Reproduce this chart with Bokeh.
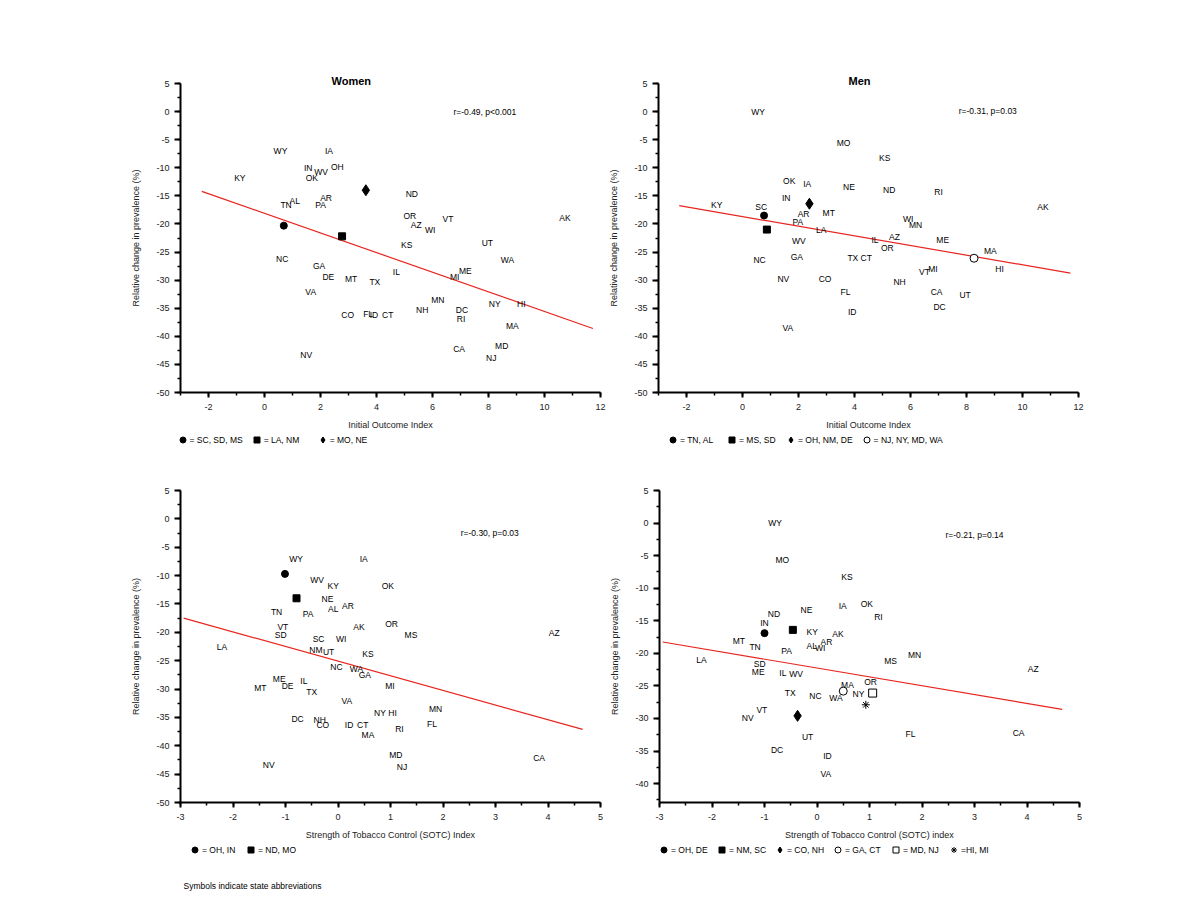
from bokeh.plotting import figure
from bokeh.models import (Range1d, SingleIntervalTicker, Label, Legend, LegendItem,
                          PrintfTickFormatter)
from bokeh.layouts import row, column
from bokeh.embed import file_html
from bokeh.resources import INLINE
from bokeh.core.properties import value

FONT = "Liberation Sans"

# ---------------- Panel 1: Women vs Initial Outcome Index ----------------
w_ioi_states = ["WY","IA","IN","WV","OH","OK","KY","ND","AR","AL","TN","PA","OR","VT","AZ","WI","AK","UT","KS","NC",
                "WA","GA","IL","ME","DE","MT","MI","TX","VA","MN","NY","HI","NH","DC","CO","FL","ID","CT","RI","MA",
                "CA","MD","NJ","NV"]
w_ioi_x = [0.57,2.30,1.56,2.02,2.60,1.69,-0.88,5.26,2.20,1.08,0.77,2.00,5.19,6.55,5.42,5.92,10.73,7.96,5.08,0.63,
           8.68,1.95,4.71,7.17,2.28,3.09,6.79,3.94,1.65,6.19,8.22,9.17,5.63,7.05,2.97,3.70,3.91,4.40,7.02,8.85,
           6.95,8.47,8.10,1.49]
w_ioi_y = [-7.0,-7.0,-10.1,-10.7,-9.9,-11.9,-11.9,-14.7,-15.4,-16.0,-16.6,-16.7,-18.6,-19.1,-20.1,-21.1,-18.9,-23.4,-23.8,-26.3,
           -26.5,-27.5,-28.5,-28.3,-29.5,-29.8,-29.4,-30.4,-32.1,-33.5,-34.3,-34.3,-35.4,-35.3,-36.2,-36.1,-36.2,-36.2,-37.0,-38.2,
           -42.2,-41.8,-43.9,-43.4]
w_ioi_sym = ["circle", "square", "diamond"]
w_ioi_sym_x = [0.69, 2.77, 3.62]
w_ioi_sym_y = [-20.3, -22.2, -14.0]
w_ioi_sym_lab = ["= SC, SD, MS", "= LA, NM", "= MO, NE"]
w_ioi_fit_x = [-2.24, 11.73]
w_ioi_fit_y = [-14.2, -38.6]

# ---------------- Panel 2: Men vs Initial Outcome Index ----------------
m_ioi_states = ["WY","MO","KS","OK","IA","NE","ND","RI","IN","KY","SC","AK","AR","MT","WI","MN","PA","LA","IL","AZ",
                "ME","OR","WV","MA","NC","GA","TX","CT","VT","MI","HI","NV","CO","NH","FL","CA","UT","DC","ID","VA"]
m_ioi_x = [0.56,3.61,5.08,1.67,2.31,3.80,5.24,7.00,1.56,-0.92,0.67,10.73,2.18,3.08,5.92,6.18,1.98,2.81,4.73,5.43,
           7.15,5.17,2.01,8.85,0.61,1.94,3.94,4.42,6.50,6.80,9.18,1.46,2.95,5.61,3.68,6.93,7.95,7.04,3.92,1.62]
m_ioi_y = [0.0,-5.6,-8.25,-12.4,-12.8,-13.4,-13.9,-14.3,-15.3,-16.7,-16.9,-17.0,-18.2,-18.0,-19.2,-20.2,-19.7,-21.0,-22.9,-22.3,
           -22.8,-24.3,-23.1,-24.9,-26.5,-25.9,-26.1,-26.1,-28.5,-28.1,-28.1,-29.8,-29.8,-30.3,-32.2,-32.1,-32.6,-34.7,-35.6,-38.5]
m_ioi_sym = ["circle", "square", "diamond", "circle_open"]
m_ioi_sym_x = [0.77, 0.87, 2.39, 8.27]
m_ioi_sym_y = [-18.5, -21.0, -16.4, -26.1]
m_ioi_sym_lab = ["= TN, AL", "= MS, SD", "= OH, NM, DE", "= NJ, NY, MD, WA"]
m_ioi_fit_x = [-2.26, 11.71]
m_ioi_fit_y = [-16.75, -28.74]

# ---------------- Panel 3: Women vs SOTC ----------------
w_sotc_states = ["WY","IA","WV","KY","OK","NE","AL","AR","TN","PA","AK","OR","VT","SD","MS","AZ","SC","WI","LA","NM",
                 "UT","KS","NC","WA","GA","ME","IL","DE","MT","MI","TX","VA","MN","NY","HI","DC","NH","CO","ID","CT",
                 "FL","RI","MA","MD","NJ","CA","NV"]
w_sotc_x = [-0.80,0.49,-0.40,-0.09,0.95,-0.20,-0.09,0.19,-1.17,-0.57,0.40,1.02,-1.05,-1.09,1.39,4.12,-0.37,0.06,-2.21,-0.42,
            -0.18,0.57,-0.03,0.35,0.51,-1.12,-0.65,-0.96,-1.48,0.99,-0.50,0.17,1.86,0.80,1.04,-0.77,-0.35,-0.29,0.21,0.47,
            1.79,1.17,0.57,1.10,1.22,3.83,-1.32]
w_sotc_y = [-7.0,-7.0,-10.7,-11.8,-11.8,-14.1,-15.9,-15.4,-16.5,-16.7,-19.0,-18.6,-19.1,-20.5,-20.5,-20.1,-21.1,-21.1,-22.5,-23.1,
            -23.4,-23.8,-26.2,-26.5,-27.5,-28.3,-28.5,-29.5,-29.9,-29.5,-30.5,-32.1,-33.6,-34.2,-34.3,-35.3,-35.5,-36.3,-36.3,-36.3,
            -36.2,-37.0,-38.1,-41.7,-43.8,-42.2,-43.4]
w_sotc_sym = ["circle", "square"]
w_sotc_sym_x = [-1.01, -0.79]
w_sotc_sym_y = [-9.7, -14.0]
w_sotc_sym_lab = ["= OH, IN", "= ND, MO"]
w_sotc_fit_x = [-2.94, 4.66]
w_sotc_fit_y = [-17.5, -37.1]

# ---------------- Panel 4: Men vs SOTC ----------------
m_sotc_states = ["WY","MO","KS","IA","OK","NE","ND","RI","IN","KY","AK","AR","MT","TN","AL","WI","PA","MN","LA","MS",
                 "SD","AZ","ME","IL","WV","OR","MA","TX","NC","WA","NY","VT","NV","FL","CA","UT","DC","ID","VA"]
m_sotc_x = [-0.80,-0.66,0.57,0.49,0.95,-0.20,-0.82,1.17,-1.00,-0.09,0.40,0.18,-1.49,-1.18,-0.10,0.06,-0.58,1.86,-2.20,1.40,
            -1.09,4.12,-1.12,-0.65,-0.40,1.02,0.58,-0.51,-0.03,0.36,0.79,-1.05,-1.32,1.78,3.84,-0.18,-0.76,0.20,0.17]
m_sotc_y = [0.0,-5.6,-8.3,-12.8,-12.5,-13.4,-13.9,-14.4,-15.4,-16.7,-17.1,-18.2,-18.05,-19.1,-18.9,-19.2,-19.7,-20.3,-21.0,-21.2,
            -21.6,-22.4,-22.8,-23.0,-23.2,-24.4,-24.9,-26.1,-26.6,-26.9,-26.3,-28.7,-29.9,-32.4,-32.3,-32.8,-34.8,-35.8,-38.6]
m_sotc_sym = ["circle", "square", "diamond", "circle_open", "square_open", "asterisk"]
m_sotc_sym_x = [-1.00, -0.46, -0.37, 0.50, 1.06, 0.93]
m_sotc_sym_y = [-16.9, -16.4, -29.6, -25.8, -26.1, -27.9]
m_sotc_sym_lab = ["= OH, DE", "= NM, SC", "= CO, NH", "= GA, CT", "= MD, NJ", "=HI, MI"]
m_sotc_fit_x = [-2.94, 4.67]
m_sotc_fit_y = [-18.26, -28.6]

Y_LABEL = "Relative change in prevalence (%)"
FOOTNOTE = "Symbols indicate state abbreviations"

MARKER_STYLE = {
    "circle": dict(marker="circle", size=7, fill_color="black"),
    "square": dict(marker="square", size=7, fill_color="black"),
    "diamond": dict(marker="diamond", size=11, fill_color="black"),
    "circle_open": dict(marker="circle", size=8, fill_color="white"),
    "square_open": dict(marker="square", size=8, fill_color="white"),
    "asterisk": dict(marker="asterisk", size=8, fill_color="white"),
}


def make_panel(width, height, bl, br, bt, bb, xr, yr, xint, states, xs, ys,
               syms, sx, sy, fx, fy, stat, stat_xy, xlabel, title=None, title_offset=0):
    p = figure(width=width, height=height, output_backend="svg", toolbar_location=None,
               x_range=Range1d(*xr), y_range=Range1d(*yr),
               min_border_left=bl, min_border_right=br, min_border_top=bt, min_border_bottom=bb,
               background_fill_color="white", border_fill_color="white")
    p.outline_line_color = None
    p.grid.visible = False
    p.xaxis.ticker = SingleIntervalTicker(interval=xint, num_minor_ticks=2)
    p.yaxis.ticker = SingleIntervalTicker(interval=5, num_minor_ticks=2)
    p.xaxis.formatter = PrintfTickFormatter(format="%d")
    p.yaxis.formatter = PrintfTickFormatter(format="%d")
    for ax in (p.xaxis[0], p.yaxis[0]):
        ax.axis_line_width = 2
        ax.axis_line_color = "black"
        ax.major_tick_line_width = 2
        ax.major_tick_line_color = "black"
        ax.minor_tick_line_width = 1.5
        ax.minor_tick_line_color = "black"
        ax.major_tick_in = 0
        ax.minor_tick_in = 0
        ax.major_label_text_font = FONT
        ax.major_label_text_font_size = "9px"
        ax.major_label_text_color = "#222222"
        ax.axis_label_text_font = FONT
        ax.axis_label_text_font_size = "9px"
        ax.axis_label_text_font_style = "normal"
        ax.axis_label_text_color = "#222222"
    p.xaxis.major_tick_out = 5
    p.xaxis.minor_tick_out = 3
    p.xaxis.major_label_standoff = 6
    p.xaxis.axis_label_standoff = 7
    p.xaxis.axis_label = xlabel
    p.yaxis.major_tick_out = 6
    p.yaxis.minor_tick_out = 3
    p.yaxis.major_label_standoff = 5
    p.yaxis.axis_label_standoff = 12
    p.yaxis.axis_label = Y_LABEL

    p.line(fx, fy, line_color="#e8251f", line_width=1.2)
    p.text(x=xs, y=ys, text=states, text_font=value(FONT), text_font_size=value("8.5px"),
           text_align="center", text_baseline="middle", text_color="black")

    for s, x0, y0 in zip(syms, sx, sy):
        st = MARKER_STYLE[s]
        p.scatter(x=[x0], y=[y0], marker=st["marker"], size=st["size"],
                  fill_color=st["fill_color"], line_color="black", line_width=1)

    p.add_layout(Label(x=stat_xy[0], y=stat_xy[1], text=stat, text_font=FONT, text_font_size="8.5px",
                       text_align="center", text_baseline="middle", text_color="black"))
    if title:
        p.title.text = title
        p.title.align = "left"
        p.title.offset = title_offset
        p.title.standoff = -6
        p.title.text_font = FONT
        p.title.text_font_size = "11px"
        p.title.text_font_style = "bold"
        p.title.text_color = "black"
    return p


def make_key(width, height, syms, sx, sy, slab, key_x, label_width, spacing, footnote=None, foot_y=0):
    """Strip under a panel holding the symbol key (a Bokeh Legend).
    The key's own renderers hold the same points, kept outside this strip's view."""
    k = figure(width=width, height=height, output_backend="svg", toolbar_location=None,
               x_range=Range1d(1000, 1001), y_range=Range1d(1000, 1001),
               x_axis_location=None, y_axis_location=None,
               min_border=0, min_border_left=0, min_border_right=0, min_border_top=0, min_border_bottom=0,
               background_fill_color="white", border_fill_color="white")
    k.outline_line_color = None
    k.grid.visible = False
    items = []
    for s, x0, y0, lab in zip(syms, sx, sy, slab):
        st = MARKER_STYLE[s]
        r = k.scatter(x=[x0], y=[y0], marker=st["marker"], size=st["size"],
                      fill_color=st["fill_color"], line_color="black", line_width=1)
        items.append(LegendItem(label=value(lab), renderers=[r]))
    leg = Legend(items=items, orientation="horizontal", location=(key_x, height - 15),
                 glyph_width=15, glyph_height=15, label_standoff=0, spacing=spacing,
                 padding=0, margin=0, label_width=label_width, label_height=15,
                 border_line_color=None, background_fill_alpha=0,
                 label_text_font=FONT, label_text_font_size="8.5px", label_text_color="black")
    k.add_layout(leg)
    if footnote:
        k.add_layout(Label(x=183, y=foot_y, x_units="screen", y_units="screen", text=footnote,
                           text_font=FONT, text_font_size="8.5px", text_align="left",
                           text_baseline="middle", text_color="black"))
    return k


p1 = make_panel(606, 432, 180, 6, 83, 40, (-3, 12), (-50, 5), 2,
                w_ioi_states, w_ioi_x, w_ioi_y, w_ioi_sym, w_ioi_sym_x, w_ioi_sym_y,
                w_ioi_fit_x, w_ioi_fit_y, "r=-0.49, p<0.001", (7.87, 0.0), "Initial Outcome Index",
                title="Women", title_offset=151)
p2 = make_panel(492, 432, 52, 20, 83, 40, (-3, 12), (-50, 5), 2,
                m_ioi_states, m_ioi_x, m_ioi_y, m_ioi_sym, m_ioi_sym_x, m_ioi_sym_y,
                m_ioi_fit_x, m_ioi_fit_y, "r=-0.31, p=0.03", (8.76, 0.1), "Initial Outcome Index",
                title="Men", title_offset=190)
k1 = make_key(606, 38, w_ioi_sym, w_ioi_sym_x, w_ioi_sym_y, w_ioi_sym_lab, 174.5, 45, 6)
k2 = make_key(492, 38, m_ioi_sym, m_ioi_sym_x, m_ioi_sym_y, m_ioi_sym_lab, 59, 38, 6)

p3 = make_panel(606, 372, 180, 6, 20, 40, (-3, 5), (-50, 5), 1,
                w_sotc_states, w_sotc_x, w_sotc_y, w_sotc_sym, w_sotc_sym_x, w_sotc_sym_y,
                w_sotc_fit_x, w_sotc_fit_y, "r=-0.30, p=0.03", (2.89, -2.5),
                "Strength of Tobacco Control (SOTC) Index")
p4 = make_panel(493, 372, 53, 20, 20, 40, (-3, 5), (-42.9, 5), 1,
                m_sotc_states, m_sotc_x, m_sotc_y, m_sotc_sym, m_sotc_sym_x, m_sotc_sym_y,
                m_sotc_fit_x, m_sotc_fit_y, "r=-0.21, p=0.14", (3.0, -1.8),
                "Strength of Tobacco Control (SOTC) index")
k3 = make_key(606, 60, w_sotc_sym, w_sotc_sym_x, w_sotc_sym_y, w_sotc_sym_lab, 187, 35, 6,
              footnote=FOOTNOTE, foot_y=17)
k4 = make_key(493, 60, m_sotc_sym, m_sotc_sym_x, m_sotc_sym_y, m_sotc_sym_lab, 50, 38, 5)

layout = column(row(p1, p2), row(k1, k2), row(p3, p4), row(k3, k4))
open("out.html", "w").write(file_html(layout, INLINE))
